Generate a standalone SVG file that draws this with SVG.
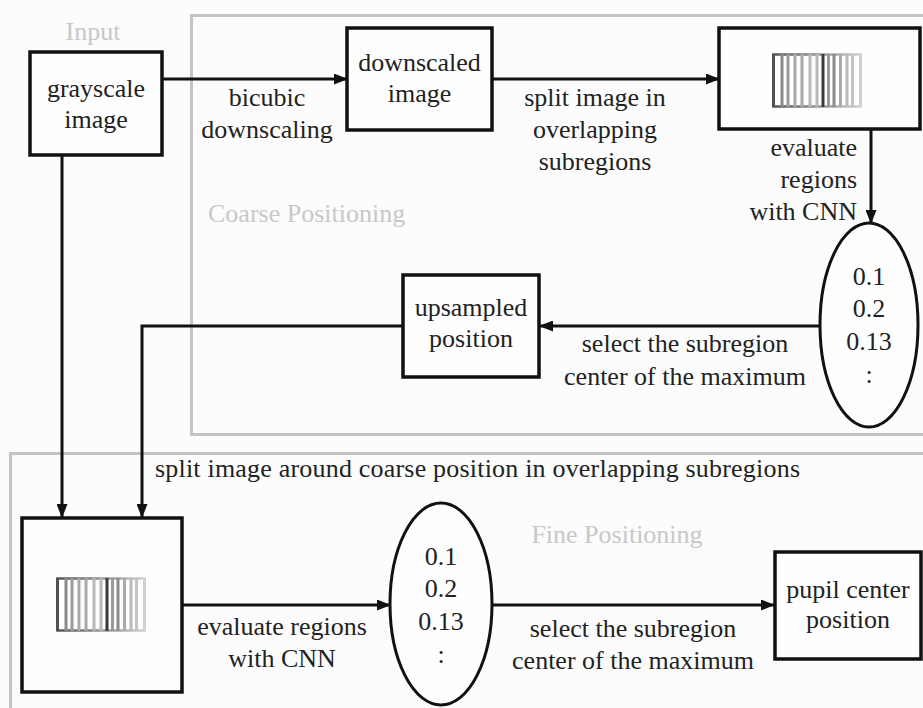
<svg xmlns="http://www.w3.org/2000/svg" width="923" height="708" viewBox="0 0 923 708">
<style>
.bg{fill:#fcfcfc}
.frame{fill:none;stroke:#c4c4c4;stroke-width:3}
.box{fill:#fefefe;stroke:#111;stroke-width:3.5}
.ell{fill:#fefefe;stroke:#111;stroke-width:3}
.conn{fill:none;stroke:#111;stroke-width:3}
text{font-family:"Liberation Serif","Times New Roman",serif;font-size:26px;fill:#222}
.c{text-anchor:middle}
.r{text-anchor:end}
.faint{fill:#c8c8c8}
</style>
<defs>
<marker id="arrow" markerUnits="userSpaceOnUse" markerWidth="14" markerHeight="11" viewBox="0 0 14 11" refX="13" refY="5.5" orient="auto">
<path d="M0,0 L14,5.5 L0,11 Z" fill="#111"/>
</marker>
<linearGradient id="fade" x1="0" y1="0" x2="1" y2="0">
<stop offset="0" stop-color="#555"/>
<stop offset="1" stop-color="#d0d0d0"/>
</linearGradient>
<g id="icon" fill="none" stroke-width="3">
<rect x="1.5" y="1.5" width="87" height="52" stroke="url(#fade)" stroke-width="2.5"/>
<line x1="1.5" y1="1" x2="1.5" y2="54" stroke="#505050"/>
<line x1="10" y1="1" x2="10" y2="54" stroke="#8a8a8a"/>
<line x1="16" y1="1" x2="16" y2="54" stroke="#9a9a9a"/>
<line x1="23" y1="1" x2="23" y2="54" stroke="#a8a8a8"/>
<line x1="30" y1="1" x2="30" y2="54" stroke="#a8a8a8"/>
<line x1="38" y1="1" x2="38" y2="54" stroke="#b8b8b8"/>
<line x1="45" y1="1" x2="45" y2="54" stroke="#b8b8b8"/>
<line x1="51" y1="1" x2="51" y2="54" stroke="#3a3a3a"/>
<line x1="56.5" y1="1" x2="56.5" y2="54" stroke="#999"/>
<line x1="62" y1="1" x2="62" y2="54" stroke="#8a8a8a"/>
<line x1="68.5" y1="1" x2="68.5" y2="54" stroke="#aaa"/>
<line x1="75" y1="1" x2="75" y2="54" stroke="#bbb"/>
<line x1="80.5" y1="1" x2="80.5" y2="54" stroke="#c4c4c4"/>
<line x1="88.5" y1="1" x2="88.5" y2="54" stroke="#d0d0d0"/>
</g>
</defs>
<rect class="bg" x="0" y="0" width="923" height="708"/>
<g id="frames">
<rect id="coarse-frame" class="frame" x="191.5" y="15.5" width="745" height="419"/>
<rect id="fine-frame" class="frame" x="10.5" y="453.5" width="925" height="265"/>
<text class="faint c" x="93" y="40">Input</text>
<text class="faint" x="208" y="222">Coarse Positioning</text>
<text class="faint c" x="617" y="543">Fine Positioning</text>
</g>
<g id="connectors">
<path class="conn" d="M162,79 H347" marker-end="url(#arrow)"/>
<path class="conn" d="M492,79 H719" marker-end="url(#arrow)"/>
<path class="conn" d="M871,129 V223" marker-end="url(#arrow)"/>
<path class="conn" d="M820,326 H540" marker-end="url(#arrow)"/>
<path class="conn" d="M403,326 H142 V517" marker-end="url(#arrow)"/>
<path class="conn" d="M62,155 V517" marker-end="url(#arrow)"/>
<path class="conn" d="M182,605 H390" marker-end="url(#arrow)"/>
<path class="conn" d="M492,605 H774" marker-end="url(#arrow)"/>
<text class="c" x="267" y="106">bicubic</text>
<text class="c" x="267" y="138">downscaling</text>
<text class="c" x="595" y="106">split image in</text>
<text class="c" x="595" y="138">overlapping</text>
<text class="c" x="595" y="170">subregions</text>
<text class="r" x="857" y="156">evaluate</text>
<text class="r" x="857" y="188">regions</text>
<text class="r" x="857" y="220">with CNN</text>
<text class="c" x="685" y="352">select the subregion</text>
<text class="c" x="685" y="385">center of the maximum</text>
<text x="155" y="477" textLength="645">split image around coarse position in overlapping subregions</text>
<text class="c" x="282" y="635">evaluate regions</text>
<text class="c" x="282" y="667">with CNN</text>
<text class="c" x="633" y="637">select the subregion</text>
<text class="c" x="633" y="669">center of the maximum</text>
</g>
<g id="grayscale-image">
<rect class="box" x="30" y="52" width="132" height="103"/>
<text class="c" x="96" y="97">grayscale</text>
<text class="c" x="96" y="128">image</text>
</g>
<g id="downscaled-image">
<rect class="box" x="347" y="28" width="145" height="102"/>
<text class="c" x="419.5" y="71">downscaled</text>
<text class="c" x="419.5" y="102">image</text>
</g>
<g id="coarse-subregions">
<rect class="box" x="719" y="28" width="201" height="101"/>
<use href="#icon" x="772" y="53"/>
</g>
<g id="coarse-scores">
<ellipse class="ell" cx="869" cy="325" rx="49" ry="102"/>
<text class="c" x="869" y="285">0.1</text>
<text class="c" x="869" y="317">0.2</text>
<text class="c" x="869" y="350">0.13</text>
<text class="c" x="869" y="383">:</text>
</g>
<g id="upsampled-position">
<rect class="box" x="403" y="275" width="136" height="102"/>
<text class="c" x="471" y="316">upsampled</text>
<text class="c" x="471" y="347">position</text>
</g>
<g id="fine-subregions">
<rect class="box" x="22" y="518" width="160" height="174"/>
<use href="#icon" x="56" y="577"/>
</g>
<g id="fine-scores">
<ellipse class="ell" cx="441" cy="604" rx="51" ry="101"/>
<text class="c" x="441" y="565">0.1</text>
<text class="c" x="441" y="597">0.2</text>
<text class="c" x="441" y="630">0.13</text>
<text class="c" x="441" y="663">:</text>
</g>
<g id="pupil-center">
<rect class="box" x="775" y="552" width="146" height="107"/>
<text class="c" x="848" y="598">pupil center</text>
<text class="c" x="848" y="628">position</text>
</g>
</svg>
